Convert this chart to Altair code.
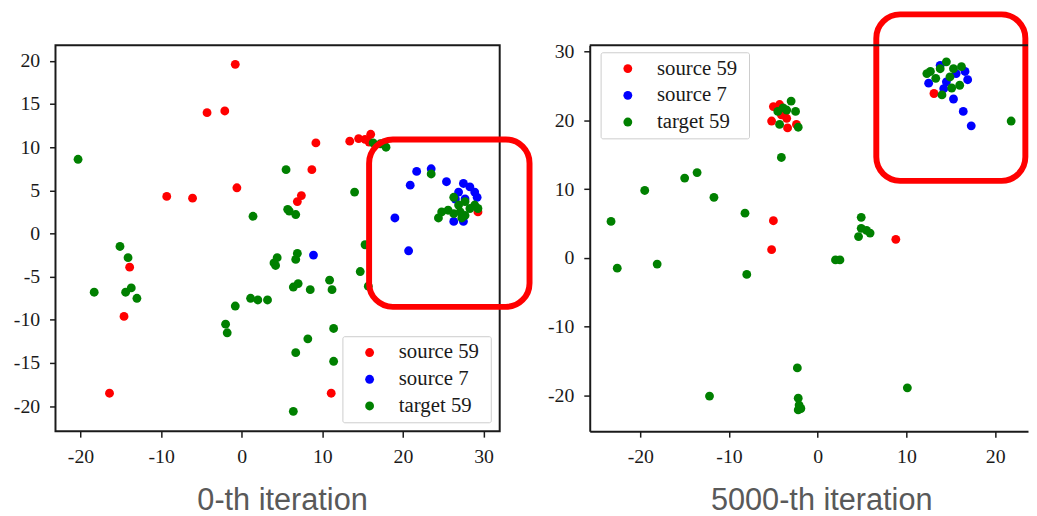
import altair as alt
import pandas as pd

GROUPS = ["source 59", "source 7", "target 59"]
COLORS = ["#ff0000", "#0000ff", "#008000"]

# ---------------- 0-th iteration ----------------
l_red_x = [-0.8, -4.3, -2.1, -9.3, -6.1, -0.6, -13.9, -14.6, -16.4, 8.7, 7.4, 6.9, 9.2,
           13.4, 14.5, 15.3, 16.0, 15.8, 29.3, 11.1]
l_red_y = [19.6, 14.0, 14.2, 4.3, 4.1, 5.3, -3.9, -9.6, -18.5, 7.4, 4.4, 3.7, 10.5,
           10.7, 11.0, 10.9, 11.5, 10.6, 2.5, -18.5]
l_blue_x = [21.7, 23.5, 20.9, 25.4, 19.0, 27.5, 28.3, 28.9, 29.2, 26.9, 26.5, 27.7,
            26.3, 27.5, 20.7, 8.9]
l_blue_y = [7.2, 7.5, 5.6, 6.0, 1.8, 5.8, 5.4, 4.8, 4.2, 4.8, 4.0, 4.0,
            1.4, 1.4, -2.0, -2.5]
l_green_x = [-20.3, 1.4, -15.1, -14.1, -18.3, -14.4, -13.7, -13.0, -0.8, -2.0, -1.8,
             1.1, 2.0, 3.2, 5.5, 14.0, 5.7, 6.7, 5.9, 15.3, 4.0, 4.4, 4.2, 6.7, 6.9,
             14.7, 6.4, 7.0, 8.5, 10.9, 11.2, 15.7, 11.4, 8.2, 6.7, 11.4, 6.4,
             16.3, 17.9, 17.2, 23.5, 26.3,
             24.4, 24.8, 25.6, 26.3, 27.1, 27.7, 28.3, 28.9, 29.3, 27.3, 26.9, 27.7]
l_green_y = [8.6, 2.0, -1.5, -2.8, -6.8, -6.8, -6.3, -7.5, -8.4, -10.5, -11.5,
             -7.5, -7.7, -7.7, 7.4, 4.8, 2.8, 2.2, 2.6, -1.3, -3.4, -2.8, -3.7, -3.0, -2.3,
             -4.4, -6.2, -5.8, -6.5, -5.4, -6.5, -6.1, -11.0, -12.2, -13.8, -14.8, -20.6,
             10.5, 10.0, 10.4, 6.9, 4.2,
             1.8, 2.5, 2.7, 2.3, 2.5, 2.1, 2.9, 3.3, 2.9, 1.8, 3.3, 3.7]

# ---------------- 5000-th iteration ----------------
r_red_x = [-5.0, -4.3, -5.2, -3.4, -3.5, -2.4, -4.1, -5.0, -5.2, 8.8, 13.1]
r_red_y = [22.0, 22.3, 19.9, 18.9, 20.3, 19.4, 20.8, 5.4, 1.2, 2.7, 23.9]
r_blue_x = [12.5, 13.8, 16.9, 16.6, 15.3, 16.4, 17.3, 14.5, 15.6, 14.2]
r_blue_y = [25.4, 28.0, 25.9, 27.1, 23.1, 21.3, 19.2, 25.6, 26.8, 24.6]
r_green_x = [-23.3, -19.5, -15.0, -13.6, -11.7, -8.2, -4.1,
             -3.0, -3.9, -4.5, -2.5, -4.3, -2.2, -3.5,
             -22.6, -18.1, -8.0, -12.2, -2.3, -2.2, -2.1, -2.2, -1.9, 2.0, 2.5, 10.1,
             4.9, 4.6, 5.5, 5.9, 4.9,
             14.5, 12.7, 13.8, 15.3, 16.2, 16.0, 15.1, 14.0, 13.3, 14.9, 12.3, 21.8]
r_green_y = [5.3, 9.8, 11.6, 12.4, 8.8, 6.5, 14.6,
             22.8, 21.8, 21.3, 21.3, 19.4, 19.0, 21.5,
             -1.5, -0.9, -2.4, -20.1, -16.0, -20.4, -21.4, -22.1, -21.9, -0.3, -0.3, -18.9,
             5.9, 3.1, 4.0, 3.6, 4.3,
             28.5, 27.1, 27.5, 27.5, 27.8, 25.1, 24.7, 23.7, 26.1, 26.3, 26.8, 19.9]

# highlight boxes (data coordinates: x1, x2, y1, y2)
l_box = [15.8, 35.7, 10.9, -8.5]
r_box = [6.6, 23.4, 35.4, 11.2]

l_xticks = [-20, -10, 0, 10, 20, 30]
l_yticks = [-20, -15, -10, -5, 0, 5, 10, 15, 20]
r_xticks = [-20, -10, 0, 10, 20]
r_yticks = [-20, -10, 0, 10, 20, 30]


def frame(rx, ry, bx, by, gx, gy):
    rows = []
    for g, xs, ys in zip(GROUPS, [rx, bx, gx], [ry, by, gy]):
        for a, b in zip(xs, ys):
            rows.append({"x": a, "y": b, "group": g})
    return pd.DataFrame(rows)


df_l = frame(l_red_x, l_red_y, l_blue_x, l_blue_y, l_green_x, l_green_y)
df_r = frame(r_red_x, r_red_y, r_blue_x, r_blue_y, r_green_x, r_green_y)

SERIF = "Liberation Serif"
color_scale = alt.Scale(domain=GROUPS, range=COLORS)


def axis(vals, domain_on):
    return alt.Axis(values=vals, title=None, grid=False, domain=domain_on,
                    labelExpr="datum.value + ''")


def legend(x, y):
    return alt.Legend(orient="none", legendX=x, legendY=y, title=None,
                      labelFont=SERIF, labelFontSize=21, labelColor="#1a1a1a",
                      symbolType="circle", symbolSize=80, symbolOpacity=1,
                      symbolStrokeWidth=0, symbolOffset=11, labelOffset=19,
                      padding=6, rowPadding=5, fillColor="white",
                      strokeColor="#cccccc", cornerRadius=2,
                      labelExpr="datum.label + '\u00a0\u200b'")


def panel(df, xdom, ydom, xt, yt, box, leg, w, h, title, tdx, framed):
    xs = alt.Scale(domain=xdom, nice=False, zero=False)
    ys = alt.Scale(domain=ydom, nice=False, zero=False)
    xa = axis(xt, not framed)
    ya = axis(yt, not framed)
    pts = alt.Chart(df).mark_circle(size=80, opacity=1).encode(
        x=alt.X("x:Q", scale=xs, axis=xa),
        y=alt.Y("y:Q", scale=ys, axis=ya),
        color=alt.Color("group:N", scale=color_scale, legend=leg),
        order=alt.Order("idx:Q"),
    ).transform_window(idx="row_number()")
    bdf = pd.DataFrame({"x1": [box[0]], "x2": [box[1]], "y1": [box[2]], "y2": [box[3]]})
    rect = alt.Chart(bdf).mark_rect(filled=False, stroke="#ff0000", strokeWidth=6,
                                    cornerRadius=24, clip=False).encode(
        x=alt.X("x1:Q", scale=xs, axis=xa), x2="x2:Q",
        y=alt.Y("y1:Q", scale=ys, axis=ya), y2="y2:Q")
    layers = [pts, rect]
    if not framed:
        top = alt.Chart(pd.DataFrame({"a": [0]})).mark_rule(
            color="#1a1a1a", strokeWidth=2).encode(
            x=alt.value(0), x2=alt.value(w), y=alt.value(0))
        layers.append(top)
    view = (alt.ViewBackground(stroke="#1a1a1a", strokeWidth=2) if framed
            else alt.ViewBackground(strokeOpacity=0))
    return alt.layer(*layers).properties(
        width=w, height=h, view=view,
        title=alt.TitleParams(text=title, orient="bottom", fontSize=31,
                              font="Liberation Sans", fontWeight="normal",
                              color="#595959", offset=20, dx=tdx))


left = panel(df_l, [-23.1, 32.0], [-22.9, 21.8], l_xticks, l_yticks, l_box,
             legend(290, 294), 449, 390, "0-th iteration", 5, True)
right = panel(df_r, [-25.7, 23.7], [-25.2, 30.9], r_xticks, r_yticks, r_box,
              legend(11, 7), 443, 390, "5000-th iteration", 13, False)

chart = alt.hconcat(left, right, spacing=91, bounds="flush").resolve_legend(
    color="independent").properties(
    padding={"left": 4, "top": 0, "right": 0, "bottom": 0},
    background="white").configure_axis(
    labelFont=SERIF, labelFontSize=20, labelColor="#1a1a1a",
    tickColor="#1a1a1a", tickSize=6, tickWidth=1.5, labelPadding=10,
    domainColor="#1a1a1a", domainWidth=2)

chart.save("out.html", embed_options={"renderer": "svg", "actions": False})
